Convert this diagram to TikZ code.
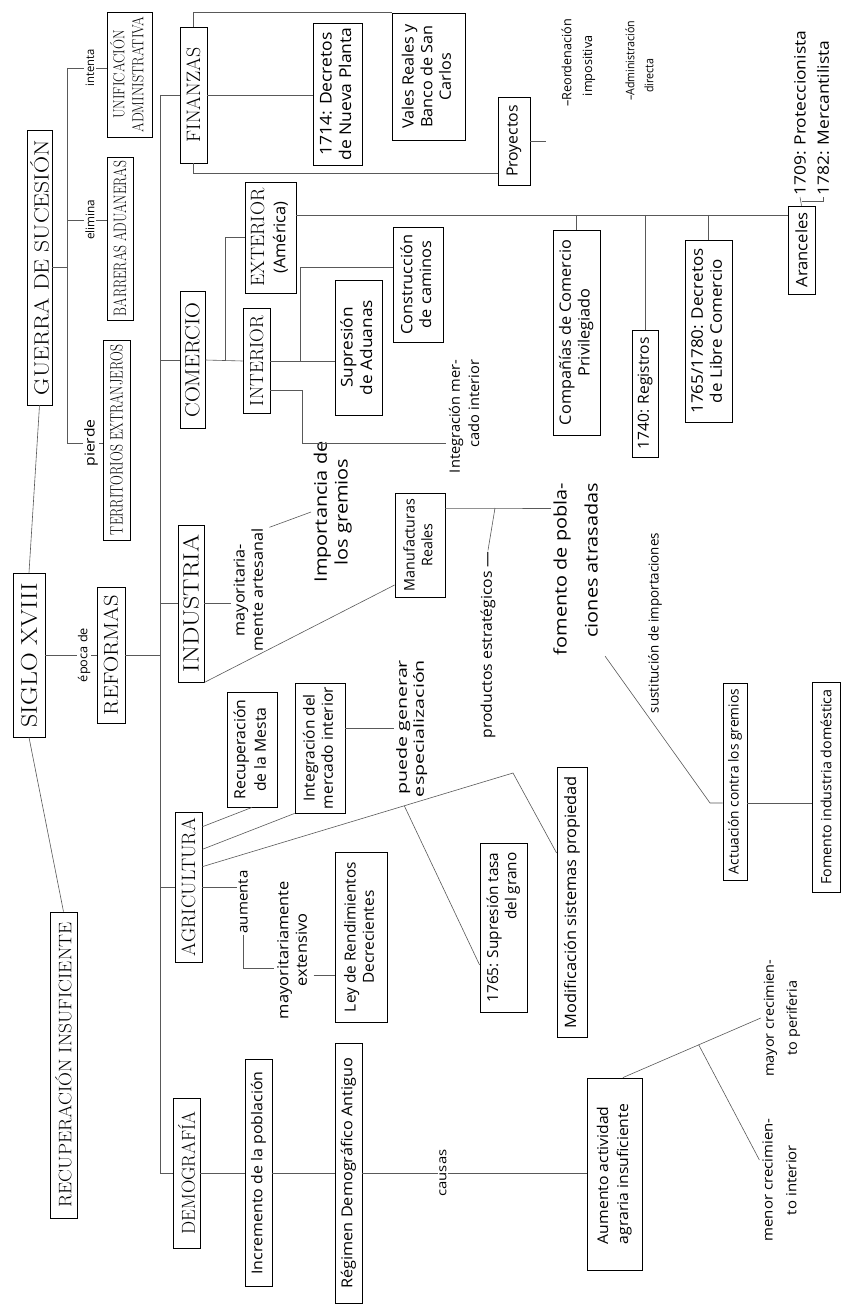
\documentclass[tikz,border=0pt]{standalone}
\usepackage{fontspec}
\usepackage{graphicx}
\setsansfont{Open Sans}
\usetikzlibrary{calc}
\newsavebox\fitbx
\newlength\fitlen
% fit text to a length: horizontal factor s, vertical factor sqrt(s)
\newcommand\fitw[2]{\sbox\fitbx{#2}\setlength\fitlen{\wd\fitbx}\pgfmathsetmacro\fsx{#1/\fitlen}\pgfmathsetmacro\fsy{sqrt(\fsx)}\scalebox{\fsx}[\fsy]{\usebox\fitbx}}
% fit text to a length: horizontal only (condensed capitals)
\newcommand\fitx[2]{\sbox\fitbx{#2}\setlength\fitlen{\wd\fitbx}\pgfmathsetmacro\fsx{#1/\fitlen}\scalebox{\fsx}[1]{\usebox\fitbx}}
\tikzset{
  bx/.style={draw=black, line width=0.8pt, rectangle, inner sep=0pt, rotate=90, align=center},
  lb/.style={inner sep=1pt, rotate=90, align=center},
  ln/.style={draw=black!65, line width=0.6pt},
  sz/.style 2 args={minimum width=#1pt, minimum height=#2pt},
  s11/.style={font=\sffamily\fontsize{11}{13}\selectfont},
  s12/.style={font=\sffamily\fontsize{12}{14}\selectfont},
  s13/.style={font=\sffamily\fontsize{13}{16}\selectfont},
  s14/.style={font=\sffamily\fontsize{14}{17}\selectfont},
  s15/.style={font=\sffamily\fontsize{15}{18}\selectfont},
  c16/.style={font=\rmfamily\fontsize{16}{19}\selectfont},
  c17/.style={font=\rmfamily\fontsize{17}{19}\selectfont},
  c18/.style={font=\rmfamily\fontsize{18}{20}\selectfont},
  c19/.style={font=\rmfamily\fontsize{19}{21}\selectfont},
  c20/.style={font=\rmfamily\fontsize{20}{22}\selectfont}
}
\begin{document}
\begin{tikzpicture}[x=1pt,y=-1pt]
\path[use as bounding box] (0,0) rectangle (842,1305);
\fill[white] (0,0) rectangle (842,1305);

% main boxes
\node[bx,sz={164}{32},c20] (siglo) at (29,655) {\fitw{145}{SIGLO XVIII}};
\node[bx,sz={275}{25},c18] (guerra) at (39.5,267.5) {\fitw{255}{GUERRA DE SUCESIÓN}};
\node[bx,sz={306}{27},c17] (recup) at (63.5,1065) {\fitw{285}{RECUPERACIÓN INSUFICIENTE}};
\node[lb,s12] (epoca) at (84,655) {\fitw{54}{época de}};
\node[bx,sz={136}{28},c18] (reformas) at (111,655) {\fitw{120}{REFORMAS}};
\node[lb,s12] (pierde) at (91,443) {\fitw{47}{pierde}};
\node[bx,sz={200}{27},c18] (territ) at (116.5,440) {\fitx{190}{TERRITORIOS EXTRANJEROS}};
\node[lb,s12] (elimina) at (90,220) {\fitw{40}{elimina}};
\node[bx,sz={163}{26},c18] (barreras) at (120,238.5) {\fitx{155}{BARRERAS ADUANERAS}};
\node[lb,s12] (intenta) at (90,68) {\fitw{37}{intenta}};
\node[bx,sz={125}{45},c16] (unific) at (129.5,74.5) {\fitx{116}{\begin{tabular}{@{}c@{}}UNIFICACIÓN\\ADMINISTRATIVA\end{tabular}}};

\node[bx,sz={136}{27},c19] (finanzas) at (193.5,95) {\fitw{95}{FINANZAS}};
\node[bx,sz={137}{25},c19] (comercio) at (192.5,360) {\fitw{115}{COMERCIO}};
\node[bx,sz={157}{26},c19] (industria) at (191,603.5) {\fitw{138}{INDUSTRIA}};
\node[bx,sz={150}{27},c19] (agric) at (188.5,887) {\fitw{138}{AGRICULTURA}};
\node[bx,sz={150}{27},c19] (demog) at (186.5,1173) {\fitw{123}{DEMOGRAFÍA}};
\node[bx,sz={105}{27},c19] (interior) at (256.5,361) {\fitw{90}{INTERIOR}};
\node[bx,sz={111}{51},c19] (exterior) at (270.5,237.5) {\fitw{98}{\begin{tabular}{@{}c@{}}EXTERIOR\\{\sffamily\fontsize{16}{19}\selectfont(América)}\end{tabular}}};

\node[bx,sz={142}{49},s15] (dec1714) at (337.5,94) {\fitw{133}{\begin{tabular}{@{}c@{}}1714: Decretos\\de Nueva Planta\end{tabular}}};
\node[bx,sz={127}{73},s15] (vales) at (428.5,76.5) {\fitw{105}{\begin{tabular}{@{}c@{}}Vales Reales y\\Banco de San\\Carlos\end{tabular}}};
\node[bx,sz={88}{32},s15] (proyectos) at (514,141) {\fitw{72}{Proyectos}};
\node[lb,s13,anchor=west] (reord) at (578.5,108) {\fitw{88}{\begin{tabular}{@{}l@{}}–Reordenación\\[5pt]\hspace*{11pt}impositiva\end{tabular}}};
\node[lb,s13,anchor=west] (admin) at (641,102) {\fitw{80}{\begin{tabular}{@{}l@{}}–Administración\\[5pt]\hspace*{10pt}directa\end{tabular}}};
\node[bx,sz={88}{27},s15] (aranceles) at (801.5,250) {\fitw{75}{Aranceles}};
\node[lb,s14,anchor=west] (p1709) at (800,197) {\fitw{165}{1709: Proteccionista}};
\node[lb,s14,anchor=west] (m1782) at (823,197) {\fitw{155}{1782: Mercantilista}};

\node[bx,sz={205}{47},s15] (compan) at (576.5,332.5) {\fitw{185}{\begin{tabular}{@{}c@{}}Compañías de Comercio\\Privilegiado\end{tabular}}};
\node[bx,sz={127}{26},s15] (registros) at (645,393.5) {\fitw{112}{1740: Registros}};
\node[bx,sz={182}{47},s15] (libre) at (708.5,331) {\fitw{165}{\begin{tabular}{@{}c@{}}1765/1780: Decretos\\de Libre Comercio\end{tabular}}};
\node[bx,sz={135}{47},s15] (supres) at (358.5,347.5) {\fitw{95}{\begin{tabular}{@{}c@{}}Supresión\\de Aduanas\end{tabular}}};
\node[bx,sz={115}{50},s15] (camin) at (418,284.5) {\fitw{100}{\begin{tabular}{@{}c@{}}Construcción\\de caminos\end{tabular}}};
\node[lb,s14] (integ1) at (466,416.5) {\fitw{113}{\begin{tabular}{@{}r@{}}Integración mer-\\[2pt]cado interior\end{tabular}}};
\node[lb,s15] (import) at (333,512) {\fitw{141}{\begin{tabular}{@{}c@{}}Importancia de\\los gremios\end{tabular}}};
\node[lb,s14] (artes) at (250,590) {\fitw{123}{\begin{tabular}{@{}c@{}}mayoritaria-\\mente artesanal\end{tabular}}};
\node[bx,sz={104}{50},s15] (manuf) at (420,545) {\fitw{92}{\begin{tabular}{@{}c@{}}Manufacturas\\Reales\end{tabular}}};
\node[lb,s14] (product) at (488,645) {\fitw{187}{productos estratégicos —}};
\node[lb,s15] (fomento) at (578,569) {\fitw{172}{\begin{tabular}{@{}r@{}}fomento de pobla-\\[9pt]ciones atrasadas\end{tabular}}};
\node[lb,s14] (sustit) at (655,623) {\fitw{180}{sustitución de importaciones}};
\node[bx,sz={197}{24},s14] (actuac) at (735,781.5) {\fitw{185}{Actuación contra los gremios}};
\node[bx,sz={210}{28},s14] (fomdom) at (826,787) {\fitw{195}{Fomento industria doméstica}};

\node[bx,sz={115}{50},s15] (recmesta) at (252,749.5) {\fitw{100}{\begin{tabular}{@{}c@{}}Recuperación\\[2pt]de la Mesta\end{tabular}}};
\node[bx,sz={130}{50},s15] (intmerc) at (320,748) {\fitw{122}{\begin{tabular}{@{}c@{}}Integración del\\mercado interior\end{tabular}}};
\node[lb,s14] (puede) at (412,728.5) {\fitx{137}{\begin{tabular}{@{}r@{}}puede generar\\especialización\end{tabular}}};
\node[bx,sz={170}{52},s15] (ley) at (361,937) {\fitw{150}{\begin{tabular}{@{}c@{}}Ley de Rendimientos\\Decrecientes\end{tabular}}};
\node[lb,s13] (aumenta) at (243,902) {\fitw{63}{aumenta}};
\node[lb,s14] (extens) at (294,950) {\fitw{138}{\begin{tabular}{@{}c@{}}mayoritariamente\\extensivo\end{tabular}}};
\node[bx,sz={169}{47},s15] (tasa) at (503.5,927.5) {\fitw{150}{\begin{tabular}{@{}r@{}}1765: Supresión tasa\\del grano\end{tabular}}};
\node[bx,sz={270}{30},s15] (modif) at (572,902) {\fitw{252}{Modificación sistemas propiedad}};
\node[bx,sz={192}{55},s14] (aument) at (614.5,1174) {\fitw{140}{\begin{tabular}{@{}l@{}}Aumento actividad\\[2pt]agraria insuficiente\end{tabular}}};
\node[lb,s13] (menor) at (781,1180) {\fitw{123}{\begin{tabular}{@{}c@{}}menor crecimien-\\[6pt]to interior\end{tabular}}};
\node[lb,s13] (mayor) at (782,1018) {\fitw{117}{\begin{tabular}{@{}c@{}}mayor crecimien-\\[6pt]to periferia\end{tabular}}};
\node[bx,sz={260}{27},s14] (regimen) at (348.5,1173) {\fitw{231}{Régimen Demográfico Antiguo}};
\node[bx,sz={227}{27},s14] (increm) at (258.5,1173) {\fitw{203}{Incremento de la población}};
\node[lb,s11] (causas) at (443,1173) {\fitw{47}{causas}};

% connectors: top level
\draw[ln] (guerra.west) -- (siglo.east);
\draw[ln] (siglo.west) -- (recup.east);
\draw[ln] (siglo.south) -- (epoca.north);
\draw[ln] (epoca.south) -- (reformas.north);

% guerra de sucesion
\coordinate (gb1) at (67,68);
\coordinate (gb2) at (67,443);
\draw[ln] (guerra.south) -- (guerra.south -| gb1);
\draw[ln] (gb1) -- (gb2);
\draw[ln] (gb1) -- (intenta.north);
\draw[ln] (elimina.north -| gb1) -- (elimina.north);
\draw[ln] (gb2) -- (pierde.north);
\draw[ln] (intenta.south) -- (intenta.south -| unific.north);
\draw[ln] (elimina.south) -- (elimina.south -| barreras.north);
\draw[ln] (pierde.south) -- (pierde.south -| territ.north);

% main bus
\coordinate (busT) at (160,95);
\coordinate (busB) at (160,1173);
\draw[ln] (busT) -- (busB);
\draw[ln] (busT) -- (finanzas.north);
\draw[ln] (comercio.north -| busT) -- (comercio.north);
\draw[ln] (industria.north -| busT) -- (industria.north);
\draw[ln] (agric.north -| busT) -- (agric.north);
\draw[ln] (busB) -- (demog.north);
\draw[ln] (reformas.south) -- (reformas.south -| busT);

% finanzas
\draw[ln] (finanzas.east) |- (vales.north east);
\draw[ln] (finanzas.south) -- (finanzas.south -| dec1714.north);
\coordinate (fp) at (193.5,173);
\draw[ln] (finanzas.west) -- (fp) -- (fp -| proyectos.north);
\coordinate (pj) at (546,141);
\draw[ln] (proyectos.south) -- (pj);

% comercio
\coordinate (cj) at (225,360);
\draw[ln] (comercio.south) -- (interior.north);
\draw[ln] (cj) |- (exterior.north);
\draw[ln] (interior.south) -- (interior.south -| supres.north);
\coordinate (ij) at (300,361);
\coordinate (ij2) at (300,267);
\draw[ln] (ij) -- (ij2) -- (ij2 -| camin.north);
\coordinate (ik) at (302,390);
\coordinate (ik2) at (302,443);
\draw[ln] (interior.south |- ik) -- (ik) -- (ik2) -- (ik2 -| integ1.north);

% exterior
\coordinate (eb1) at (exterior.south |- 0,215);
\coordinate (eb2) at (aranceles.north |- 0,215);
\draw[ln] (eb1) -- (eb2);
\draw[ln] (compan.east |- eb1) -- (compan.east);
\draw[ln] (registros.east |- eb1) -- (registros.east);
\draw[ln] (libre.east |- eb1) -- (libre.east);
\coordinate (ab) at (801.5,201);
\draw[ln] (aranceles.east) -- (p1709.west);
\draw[ln] (ab) -| (m1782.west);

% industria
\draw[ln] (industria.south) -- (industria.south -| artes.north);
\draw[ln] (artes.south east) -- (import.north);
\draw[ln] (industria.south west) -- (manuf.north |- 0,585);
\coordinate (J1) at (495,508);
\draw[ln] (manuf.south |- J1) -- (J1) -- (J1 -| fomento.north);
\draw[ln] (J1) -- (product.east);
\coordinate (J2) at (710,803);
\draw[ln] (fomento.south west) -- (J2) -- (J2 -| actuac.north);
\draw[ln] (actuac.south |- J2) -- (fomdom.north |- J2);

% agricultura
\coordinate (ag0) at ($(agric.south)!0.8!(agric.south east)$);
\coordinate (ag1) at ($(agric.south)!0.5!(agric.south east)$);
\coordinate (ag3) at ($(agric.south)!0.27!(agric.south east)$);
\draw[ln] (agric.south) -- (agric.south -| aumenta.north);
\draw[ln] (ag0) -- (recmesta.west);
\draw[ln] (ag1) -- (intmerc.north west);
\coordinate (mb) at (513,773);
\draw[ln] (ag3) -- (mb) -- (modif.north |- 0,853);
\coordinate (br) at ($(ag3)!0.65!(mb)$);
\draw[ln] (br) -- (tasa.north |- 0,965);
\draw[ln] (aumenta.west) |- (extens.north |- 0,968);
\draw[ln] (extens.south |- 0,975) -- (ley.north |- 0,975);
\draw[ln] (intmerc.south |- puede.north) -- (puede.north);

% demografia
\draw[ln] (demog.south) -- (increm.north);
\draw[ln] (increm.south) -- (regimen.north);
\draw[ln] (regimen.south) -- (causas.north);
\draw[ln] (causas.south) -- (causas.south -| aument.north);
\coordinate (au) at ($(aument.east)!0.3!(aument.south east)$);
\draw[ln] (au) -- (mayor.north);
\coordinate (aj) at ($(au)!0.55!(mayor.north)$);
\draw[ln] (aj) -- (menor.north |- 0,1160);
\end{tikzpicture}
\end{document}
